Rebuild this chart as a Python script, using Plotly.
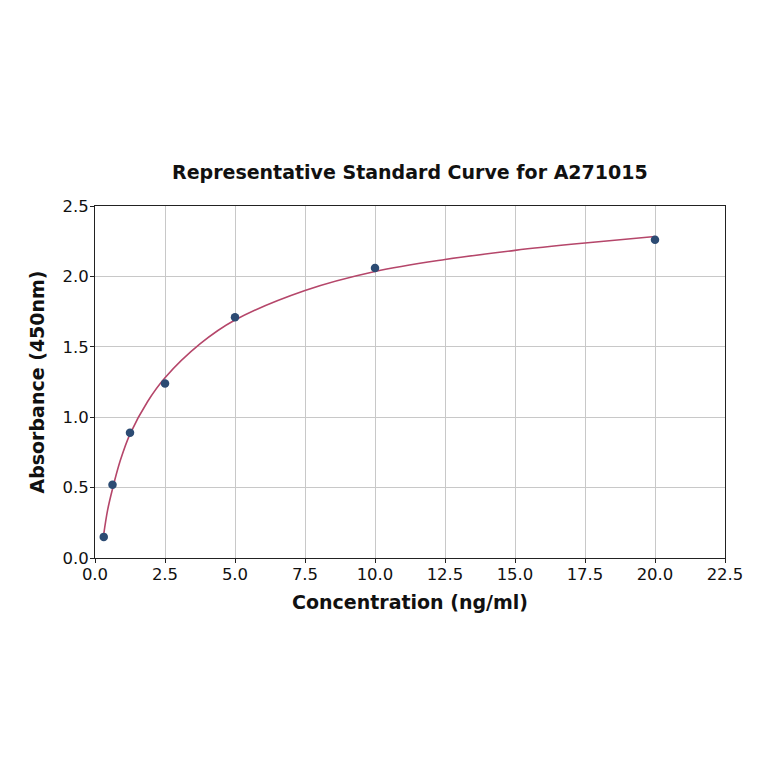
import plotly.graph_objects as go

# standards (ng/ml) and measured absorbance
conc = [0.3125, 0.625, 1.25, 2.5, 5, 10, 20]
absorbance = [0.15, 0.52, 0.89, 1.24, 1.71, 2.06, 2.26]

# fitted curve
fit_x = [0.3125, 0.45, 0.625, 0.9, 1.25, 1.875, 2.5, 3.75, 5, 7.5, 10, 12.5, 15, 17.5, 20]
fit_y = [0.17, 0.34, 0.49, 0.69, 0.88, 1.11, 1.28, 1.52, 1.69, 1.90, 2.035, 2.12, 2.185, 2.237, 2.283]

font = "DejaVu Sans"

fig = go.Figure()
fig.add_trace(go.Scatter(
    x=fit_x, y=fit_y, mode="lines", line_shape="spline",
    line=dict(color="#b5466a", width=1.6), hoverinfo="skip",
))
fig.add_trace(go.Scatter(
    x=conc, y=absorbance, mode="markers",
    marker=dict(color="#2c4b73", size=8.5, line=dict(width=0)),
))

axis = dict(
    showline=True, linecolor="#222", linewidth=1, mirror=True,
    showgrid=True, gridcolor="#c8c8c8", gridwidth=1,
    ticks="outside", ticklen=4, tickcolor="#222",
    tickfont=dict(family=font, size=16.5, color="#111"),
    zeroline=False,
)

# page body adds ~8px offset, so margins are shifted to compensate
fig.update_layout(
    width=764, height=764,
    paper_bgcolor="white", plot_bgcolor="white",
    showlegend=False,
    margin=dict(l=87, r=47, t=198, b=214),
    title=dict(
        text="<b>Representative Standard Curve for A271015</b>",
        font=dict(family=font, size=19, color="#111"),
        x=0.526, xanchor="center", y=0.785, yanchor="middle",
    ),
    xaxis=dict(
        axis, range=[0, 22.5], tick0=0, dtick=2.5, tickformat=".1f",
        ticklabelstandoff=-3,
        title=dict(text="<b>Concentration (ng/ml)</b>", font=dict(family=font, size=19, color="#111"), standoff=12),
    ),
    yaxis=dict(
        axis, range=[0, 2.5], tick0=0, dtick=0.5, tickformat=".1f",
        ticklabelstandoff=-2,
        title=dict(text="<b>Absorbance (450nm)</b>", font=dict(family=font, size=19, color="#111"), standoff=12),
    ),
)

fig.write_html("out.html")
